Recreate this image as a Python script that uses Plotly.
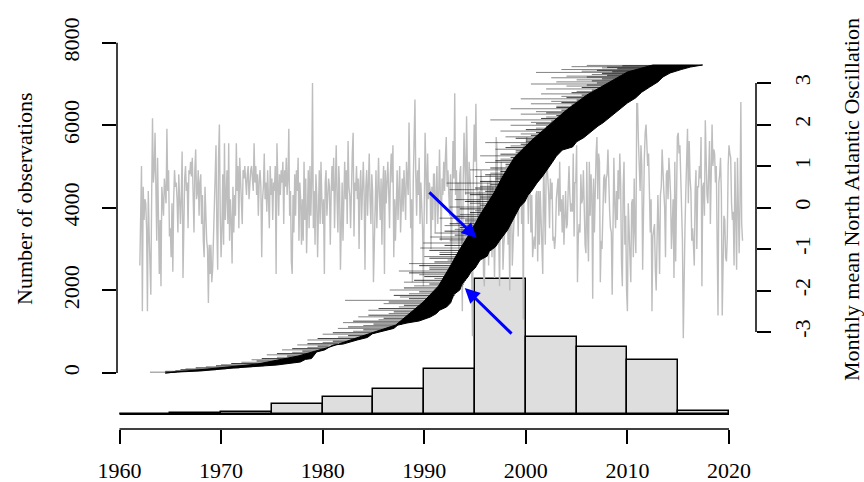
import plotly.graph_objects as go

# ---------------- data ----------------
hist_bin_left = [1960, 1965, 1970, 1975, 1980, 1985, 1990, 1995, 2000, 2005, 2010, 2015]
hist_heights = [0, 35, 60, 245, 425, 605, 1090, 3270, 1865, 1625, 1320, 75]
hist_base = -1000
hist_bin_width = 5

nao_start_year = 1962
nao_monthly = [
    -1.4, 0.6, 1.0, -2.5, 0.5, -0.3, 0.2, 0.1, -0.5, -2.5, 0.4, -0.6,
    -1.2, -2.1, 0.3, 2.15, 0.6, 0.9, 1.8, 0.3, -0.8, 1.2, -0.9, -1.6,
    -0.3, -1.9, 0.5, 0.2, -0.2, 0.7, 0.2, 0.1, 1.9, 0.4, 0.9, -0.7,
    -0.5, -1.2, 0.1, -1.55, 0.2, 0.9, 0.5, 0.6, 0.2, -0.6, 0.8, 0.3,
    -0.4, 0.3, 1.35, -1.7, -0.2, 0.7, 1.0, 0.4, 0.6, -0.5, 0.9, 0.8,
    1.1, 0.75, 1.2, 0.4, -0.6, 0.9, 1.4, 0.2, 0.35, 0.9, -0.2, 0.6,
    0.8, -0.4, 0.3, -0.8, -1.2, 0.5, -0.6, -0.8, -1.0, -2.3, -0.9, -1.6,
    -0.9, -1.8, -1.5, -0.6, 0.3, 0.5, 1.5, -0.5, -1.5, 1.2, 2.0, -0.2,
    -1.2, -0.5, 0.8, -0.9, 1.55, -0.3, 0.4, 0.9, -0.4, 1.55, -0.8, 0.2,
    -0.3, -1.35, 0.5, -0.6, 0.3, -0.2, 1.55, 0.4, 1.0, -0.5, 1.2, 0.6,
    0.4, -0.4, 0.9, 0.7, 1.0, 0.5, 0.3, 0.8, 1.0, 0.2, 0.6, 0.9,
    1.0, 0.5, 0.4, 1.55, 0.6, 1.0, 0.3, 0.8, -0.2, 0.6, 0.9, 0.5,
    -1.2, 0.2, 0.5, 1.3, 0.2, 0.6, -0.1, 0.9, 0.4, -0.5, 1.0, 0.3,
    0.7, -0.3, 0.6, 0.4, 1.0, -1.6, 1.55, 0.5, -0.2, 0.8, 0.3, 0.9,
    0.6, 1.1, -0.4, 0.9, 0.5, 1.2, 0.3, 0.7, 1.9, -0.2, 0.4, -1.3,
    -1.6, 0.3, -0.6, 0.8, -0.2, 0.9, 0.4, 1.2, -0.8, 0.6, 0.2, -0.9,
    0.2, -0.8, 1.1, -0.3, 0.7, -1.1, 0.4, 0.9, -0.5, 1.0, -0.2, 0.6,
    3.0, -0.5, 0.4, -0.9, 0.8, 0.3, -1.2, 0.5, 0.9, -0.4, 1.1, 0.2,
    -0.4, 0.2, -1.6, 0.6, 0.9, -0.2, 0.4, 0.7, 0.5, -0.9, 0.3, 1.0,
    0.4, 1.2, -0.5, 0.3, 1.5, 0.2, -0.6, 1.0, 0.5, -1.5, 0.3, 0.6,
    -0.8, 0.6, 1.1, 0.2, 0.9, -0.4, 1.6, 0.5, 0.3, -0.5, 0.8, 1.3,
    1.8, -0.7, 0.6, 0.4, 1.0, 0.2, 0.7, -1.0, 0.5, 0.9, -0.3, 0.6,
    1.1, 0.3, -1.5, 0.5, 0.9, -0.2, 0.6, 1.3, 0.2, -0.4, 0.8, 0.4,
    -1.8, -0.6, 0.2, 0.9, -0.5, 0.4, 1.2, 0.3, -0.3, 0.7, -0.9, 0.5,
    1.0, -1.6, 0.9, 0.1, 0.6, 1.1, 0.4, -0.5, 0.8, 1.3, 0.6, 1.5,
    -1.2, 0.2, -0.8, 0.5, 0.9, -0.3, 0.4, 1.0, -0.6, 0.3, 0.7, -0.1,
    0.9, 0.4, -0.3, 1.1, 0.5, 0.3, 2.05, 0.6, -0.5, 0.2, -1.8, 0.6,
    1.4, 2.6, 0.8, -0.2, 0.9, 0.3, 1.2, -0.4, 0.6, 0.2, -0.5, -1.9,
    1.2, 1.8, 0.9, -0.4, 1.3, 0.2, 0.6, 0.4, -1.0, 0.5, -0.3, 0.8,
    0.8, -0.6, 0.3, 1.0, -0.4, 0.2, 1.4, 0.6, -0.8, 0.7, 0.3, 1.1,
    0.4, 1.2, 1.7, 0.5, 0.9, 0.3, -0.2, 0.8, -1.3, 0.4, 1.6, 0.7,
    2.75, 0.3, 0.9, -0.4, 0.6, -1.2, 0.8, 1.0, -0.9, -2.5, 0.6, 1.8,
    1.0, 0.3, 2.2, 0.6, -0.5, 1.1, 0.8, 0.4, -1.5, -3.1, 0.9, 2.0,
    1.1, 2.5, 0.6, -0.5, -0.8, 0.4, -0.2, 0.9, 0.5, 0.1, -1.6, -1.9,
    -0.6, -0.2, -0.9, 0.6, -1.4, 0.4, 0.8, 0.3, -1.2, 0.5, -0.8, -1.7,
    -0.4, 1.7, 1.4, -0.6, -0.8, -1.9, 0.3, 1.1, 0.6, -1.5, -0.9, -0.6,
    0.4, -0.1, 0.5, -0.9, -0.2, -2.0, 0.5, 0.7, -1.4, -1.0, -0.3, 0.9,
    0.8, 0.3, 0.3, -0.7, 0.6, 0.2, 1.2, -0.4, 0.9, -2.7, 1.5, 1.0,
    0.6, 1.7, 0.8, -0.4, 1.6, -0.3, -0.6, 0.3, -1.2, -0.9, -0.7, -1.0,
    0.3, 0.4, -1.3, 0.4, -0.9, 0.4, -0.3, -0.4, -1.6, 1.2, 0.4, -0.9,
    0.8, 1.1, 0.7, 0.3, -0.5, 0.7, 0.2, 0.6, -0.8, -0.7, -1.0, -0.7,
    0.2, 0.6, 0.7, -0.2, 1.1, -0.1, 0.2, -0.6, 0.3, -0.9, -0.3, 0.4,
    -0.5, -0.4, 0.4, 1.0, 0.3, -0.1, 0.1, -0.1, 1.3, -0.7, 0.6, 0.6,
    1.5, -1.8, -0.7, -0.4, -0.6, 0.8, 0.1, 0.2, 0.9, -0.2, -0.9, -1.1,
    1.1, -0.5, -1.3, 1.1, -0.2, 0.8, 0.3, -2.2, 0.7, -0.6, 0.5, 1.3,
    1.7, 0.2, 1.3, 1.1, -1.8, -0.8, -1.0, 0.3, 0.7, 0.8, 0.1, 0.7,
    0.8, 1.4, 0.1, -0.1, -0.5, -0.6, -2.1, -0.6, 1.2, 0.1, -0.5, 0.4,
    -0.3, 0.9, 0.2, 1.3, 0.6, -1.3, -1.9, 0.5, 1.1, -0.9, -0.2, -2.0,
    -2.5, 0.1, -0.7, -1.2, -1.8, 0.1, 0.2, -1.2, 0.7, -0.6, -1.1, 2.5,
    2.5, 1.6, 1.1, 0.4, 1.5, 1.0, -1.5, 0.7, 1.2, 1.8, 2.0, 1.5,
    1.0, 1.3, 0.6, -0.6, 0.2, -2.5, -0.7, -0.5, -0.4, -1.5, -2.0, -0.8,
    0.3, -0.5, -1.6, 0.3, 0.5, 1.4, 0.7, 0.4, 0.0, -1.2, 0.8, 0.9,
    0.2, 1.2, 0.8, 0.3, -1.0, -0.4, 0.2, -1.7, 1.1, -1.3, 0.6, 1.7,
    1.8, 1.3, 1.5, 0.7, 0.1, -0.8, -3.15, -0.8, -0.5, 0.4, 1.4, 1.9,
    0.1, 1.6, 0.7, 0.4, -0.8, -0.5, -0.9, -1.4, 0.4, 0.9, -1.0, 0.5,
    0.5, 1.0, 0.7, 1.7, -1.9, 0.5, 0.6, -0.2, 2.1, 1.0, 0.3, 0.1,
    1.4, 1.6, -0.4, 0.7, 2.0, 1.0, 1.4, 1.3, 0.6, 1.0, -0.6, -2.6,
    0.6, 0.8, 1.2, 0.3, -2.6, -0.6, -0.2, -0.3, -1.2, -1.3, -0.7, 1.0,
    1.5, 1.3, 1.2, 0.1, -0.3, -0.1, -1.4, 1.1, -0.7, -1.5, 1.2, -0.2,
    -1.1, 0.1, 2.54, -0.4, -0.8,
]

# dense block of observation records: end-date edge (bottom -> top)
band_end_year = [1964.5, 1965.7, 1967.9, 1971.2, 1975.5, 1977.8, 1978.3, 1978.9, 1979.4, 1980.2,
                 1981.0, 1982.0, 1983.4, 1984.4, 1984.9, 1985.7, 1987.0, 1987.4, 1988.3, 1989.5,
                 1990.6, 1991.2, 1991.5, 1992.2, 1992.6, 1992.9, 1993.5, 1993.7, 1994.3, 1994.6,
                 1995.0, 1995.5, 1996.2, 1996.4, 1997.0, 1997.4, 1997.7, 1998.2, 1998.5, 1998.9,
                 1999.4, 1999.9, 2000.2, 2000.6, 2001.1, 2001.6, 2002.0, 2002.6, 2003.0, 2003.6,
                 2004.6, 2005.0, 2005.7, 2006.6, 2007.1, 2007.6, 2008.3, 2008.8, 2009.4, 2010.0,
                 2010.8, 2011.4, 2012.2, 2013.0, 2013.5, 2014.2, 2015.3, 2016.2, 2017.4]
band_end_count = [0, 24, 48, 121, 194, 266, 330, 350, 509, 560,
                  678, 700, 799, 860, 950, 993, 1080, 1160, 1211, 1260,
                  1356, 1440, 1520, 1599, 1700, 1900, 2010, 2150, 2325, 2450,
                  2540, 2737, 2830, 2950, 3052, 3200, 3300, 3463, 3600, 3800,
                  4021, 4150, 4300, 4420, 4602, 4750, 4880, 5100, 5250, 5401,
                  5474, 5600, 5700, 5885, 5980, 6060, 6200, 6300, 6420, 6539,
                  6660, 6800, 6927, 7050, 7170, 7266, 7350, 7410, 7460]
# left boundary of the solid part (top -> bottom)
band_start_year = [2012.5, 2010.0, 2008.3, 2006.0, 2004.0, 2002.3, 2000.6, 1998.9, 1997.8, 1996.8,
                   1995.6, 1994.5, 1993.4, 1992.4, 1991.4, 1989.9, 1987.2, 1983.6, 1980.7,
                   1977.6, 1973.6, 1968.7, 1965.0]
band_start_count = [7460, 7290, 7047, 6733, 6370, 6007, 5643, 5232, 4796, 4336,
                    3875, 3391, 2955, 2519, 2107, 1720, 1163, 872, 630,
                    412, 218, 97, 24]

# longer individual records (rank, start year, end year)
rec_rank = [7450, 7420, 7390, 7350, 7310, 7280, 7230, 7190, 7150, 7100, 7050, 7000, 6950, 6880, 6820,
            6760, 6700, 6640, 6580, 6520, 6460, 6400, 6330, 6270, 6200, 6130, 6070, 6000, 5930, 5860,
            5790, 5720, 5650, 5580, 5500, 5420, 5340, 5260, 5180, 5100, 5010, 4920, 4840, 4760, 4680,
            4600, 4520, 4440, 4360, 4280, 4200, 4110, 4020, 3930, 3840, 3750, 3660, 3570, 3480, 3390,
            3294, 3200, 3149, 3027, 2920, 2820, 2737, 2650, 2560, 2470, 2380, 2290, 2200, 2110, 2010,
            1920, 1841, 1760, 1680, 1600, 1520, 1440, 1360, 1290, 1220, 1150, 1080, 1010, 940, 870,
            800, 740, 680, 620, 560, 500, 440, 380, 320, 260, 200, 150, 100, 60, 20]
rec_start = [2006.0, 2004.5, 2007.5, 2003.5, 2005.5, 2001.0, 2006.5, 2004.0, 2002.5, 2005.0, 2003.0, 2000.5, 2004.0, 2002.0, 2005.0,
             2001.5, 2003.5, 1999.5, 2002.5, 2000.5, 2003.0, 1998.5, 2001.0, 1999.5, 2002.0, 1996.5, 2000.5, 1998.5, 2001.0, 1997.5,
             1999.5, 1998.0, 2000.0, 1996.0, 1998.5, 1997.0, 1999.0, 1995.5, 1997.5, 1996.0, 1998.0, 1994.5, 1996.5, 1995.0, 1997.0,
             1992.2, 1995.5, 1992.5, 1994.0, 1995.5, 1993.0, 1994.5, 1992.5, 1995.0, 1993.5, 1991.5, 1994.0, 1992.0, 1993.0, 1991.0,
             1990.6, 1992.5, 1989.9, 1989.6, 1991.5, 1990.0, 1992.3, 1988.5, 1990.5, 1987.5, 1989.5, 1991.0, 1988.0, 1989.0, 1986.6,
             1988.5, 1987.6, 1982.2, 1986.0, 1987.5, 1984.5, 1986.5, 1983.5, 1985.5, 1982.0, 1984.0, 1981.5, 1983.0, 1980.0, 1981.5,
             1978.5, 1980.0, 1977.5, 1978.5, 1976.0, 1977.0, 1974.5, 1975.5, 1973.0, 1972.0, 1970.0, 1968.5, 1966.5, 1965.5, 1963.0]
rec_end = [2016.5, 2016.0, 2015.5, 2015.0, 2014.5, 2014.0, 2013.8, 2013.5, 2013.3, 2013.0, 2012.8, 2012.5, 2012.2, 2011.8, 2011.5,
           2011.2, 2010.8, 2010.5, 2010.0, 2009.8, 2009.5, 2009.0, 2008.6, 2008.3, 2008.0, 2007.8, 2007.5, 2007.2, 2006.8, 2006.4,
           2006.0, 2005.6, 2005.2, 2004.8, 2004.4, 2003.6, 2003.2, 2003.0, 2002.7, 2002.4, 2002.0, 2001.8, 2001.5, 2001.3, 2001.0,
           2000.8, 2000.6, 2000.4, 2000.1, 1999.9, 1999.7, 1999.5, 1999.2, 1999.0, 1998.8, 1998.6, 1998.4, 1998.2, 1998.0, 1997.8,
           1997.4, 1997.2, 1997.0, 1996.8, 1996.4, 1995.9, 1995.4, 1995.2, 1994.9, 1994.6, 1994.4, 1994.2, 1994.0, 1993.8, 1993.4,
           1993.1, 1992.9, 1992.6, 1992.4, 1992.1, 1991.5, 1991.0, 1990.4, 1989.3, 1988.2, 1987.4, 1986.5, 1985.7, 1984.8, 1984.2,
           1983.3, 1982.1, 1980.9, 1980.4, 1979.8, 1979.3, 1978.9, 1978.5, 1978.1, 1977.6, 1975.4, 1973.0, 1970.5, 1968.5, 1965.5]

# shorter records just left of the solid block (rank, start year, end year)
short_rank = [7440, 7405, 7370, 7330, 7295, 7255, 7210, 7170, 7125, 7075, 7025, 6975, 6915, 6850, 6790,
              6730, 6670, 6610, 6550, 6490, 6430, 6365, 6300, 6235, 6165, 6100, 6035, 5965, 5895, 5825,
              5755, 5685, 5615, 5540, 5460, 5380, 5300, 5220, 5140, 5055, 4965, 4880, 4800, 4720, 4640,
              4560, 4480, 4400, 4320, 4240, 4155, 4065, 3975, 3885, 3795, 3705, 3615, 3525, 3435, 3340,
              3245, 3090, 2970, 2870, 2780, 2690, 2600, 2515, 2425, 2335, 2245, 2155, 2060, 1965, 1880,
              1800, 1720, 1640, 1560, 1480, 1400, 1325, 1255, 1185, 1115, 1045, 975, 905, 835, 770,
              710, 650, 590, 530, 470, 410, 350, 290, 230, 175, 125, 80, 40]
short_start = [2009.5, 2008.0, 2009.0, 2007.0, 2008.5, 2007.5, 2008.0, 2006.0, 2007.5, 2006.5, 2007.0, 2006.0, 2005.5, 2006.5, 2004.5,
               2005.5, 2004.0, 2005.0, 2003.5, 2004.5, 2003.0, 2003.5, 2002.0, 2003.0, 2001.5, 2002.5, 2001.0, 2002.0, 2000.0, 2001.0,
               2000.5, 1999.0, 2000.0, 1999.5, 1998.0, 1999.0, 1997.5, 1998.5, 1997.0, 1998.0, 1996.5, 1997.5, 1996.0, 1997.0, 1995.5,
               1996.5, 1995.0, 1996.0, 1994.5, 1995.5, 1994.0, 1995.5, 1993.5, 1994.5, 1993.0, 1994.0, 1992.5, 1993.5, 1992.0, 1993.0,
               1991.5, 1992.0, 1990.5, 1991.5, 1990.5, 1991.0, 1989.5, 1990.5, 1988.5, 1990.0, 1989.0, 1990.5, 1988.0, 1989.5, 1987.0,
               1988.5, 1986.5, 1988.0, 1985.5, 1987.0, 1984.5, 1986.0, 1983.0, 1985.0, 1982.5, 1984.0, 1981.0, 1982.5, 1979.5, 1981.0,
               1978.5, 1979.5, 1977.0, 1978.0, 1975.5, 1976.5, 1974.0, 1973.5, 1971.0, 1969.5, 1967.5, 1966.0, 1964.5]
short_end = [2016.3, 2015.8, 2015.2, 2014.8, 2014.3, 2013.9, 2013.6, 2013.4, 2013.1, 2012.9, 2012.6, 2012.3, 2012.0, 2011.6, 2011.3,
             2011.0, 2010.6, 2010.3, 2009.9, 2009.6, 2009.2, 2008.8, 2008.5, 2008.2, 2007.9, 2007.6, 2007.3, 2007.0, 2006.6, 2006.2,
             2005.8, 2005.4, 2005.0, 2004.6, 2004.0, 2003.4, 2003.1, 2002.8, 2002.5, 2002.2, 2001.9, 2001.6, 2001.4, 2001.1, 2000.9,
             2000.7, 2000.5, 2000.2, 2000.0, 1999.8, 1999.6, 1999.3, 1999.1, 1998.9, 1998.7, 1998.5, 1998.3, 1998.1, 1997.9, 1997.6,
             1997.3, 1996.9, 1996.6, 1996.1, 1995.6, 1995.3, 1995.0, 1994.7, 1994.5, 1994.3, 1994.1, 1993.9, 1993.6, 1993.2, 1993.0,
             1992.7, 1992.5, 1992.2, 1991.8, 1991.2, 1990.7, 1989.8, 1988.7, 1987.8, 1986.9, 1986.1, 1985.2, 1984.5, 1983.8, 1982.7,
             1981.5, 1980.6, 1980.1, 1979.5, 1979.1, 1978.7, 1978.3, 1977.9, 1976.5, 1974.2, 1971.8, 1969.5, 1966.5]

# arrows: (tail year, tail count) -> (tip year, tip count)
arrow_tail_year = [1990.36, 1998.74]
arrow_tail_count = [4408, 920]
arrow_tip_year = [1995.16, 1993.99]
arrow_tip_count = [3270, 2059]

x_ticks = [1960, 1970, 1980, 1990, 2000, 2010, 2020]
y_ticks = [0, 2000, 4000, 6000, 8000]
y2_ticks = [-3, -2, -1, 0, 1, 2, 3]

# ---------------- layout geometry ----------------
W, H = 864, 482
ML, MR, MT, MB = 117, 108, 25, 53
PW, PH = W - ML - MR, H - MT - MB
xs = (729.0 - 119.5) / 60.0
x0 = 1960 - (119.5 - ML) / xs
x1 = x0 + PW / xs
ys = (373.0 - 42.7) / 8000.0
y_lo = -((H - MB) - 373.0) / ys
y_hi = (373.0 - MT) / ys
y2s = (332.0 - 83.0) / 6.0
y2_zero = (332.0 + 83.0) / 2.0
y2_lo = -((H - MB) - y2_zero) / y2s
y2_hi = (y2_zero - MT) / y2s

FONT = "Liberation Serif"
FS = 22

fig = go.Figure()

# histogram
centers = [b + hist_bin_width / 2 for b in hist_bin_left]
fig.add_trace(go.Bar(x=centers, y=hist_heights, base=hist_base, width=hist_bin_width,
                     marker=dict(color="#dedede", line=dict(color="black", width=1.5)),
                     xaxis="x", yaxis="y", showlegend=False, hoverinfo="skip"))
fig.add_trace(go.Scatter(x=[hist_bin_left[0], hist_bin_left[-1] + hist_bin_width],
                         y=[hist_base, hist_base], mode="lines",
                         line=dict(color="black", width=1.5), xaxis="x", yaxis="y",
                         showlegend=False, hoverinfo="skip"))

# NAO line
nao_t = [nao_start_year + i / 12.0 for i in range(len(nao_monthly))]
fig.add_trace(go.Scatter(x=nao_t, y=nao_monthly, mode="lines",
                         line=dict(color="#bebebe", width=1.4),
                         xaxis="x", yaxis="y2", showlegend=False, hoverinfo="skip"))

# observation records
def segs(ranks, starts, ends):
    xx, yy = [], []
    for r, s, e in zip(ranks, starts, ends):
        xx += [s, e, None]
        yy += [r, r, None]
    return xx, yy

lx, ly = segs(rec_rank, rec_start, rec_end)
fig.add_trace(go.Scatter(x=lx, y=ly, mode="lines",
                         line=dict(color="rgba(0,0,0,0.55)", width=0.9),
                         xaxis="x", yaxis="y3", showlegend=False, hoverinfo="skip"))
sx, sy = segs(short_rank, short_start, short_end)
fig.add_trace(go.Scatter(x=sx, y=sy, mode="lines",
                         line=dict(color="rgba(0,0,0,0.75)", width=1),
                         xaxis="x", yaxis="y3", showlegend=False, hoverinfo="skip"))
bx = band_end_year + band_start_year + [band_end_year[0]]
by = band_end_count + band_start_count + [band_end_count[0]]
fig.add_trace(go.Scatter(x=bx, y=by, mode="lines", fill="toself", fillcolor="black",
                         line=dict(color="black", width=1),
                         xaxis="x", yaxis="y3", showlegend=False, hoverinfo="skip"))

tickfont = dict(family=FONT, size=FS, color="black")
fig.update_layout(
    width=W, height=H, margin=dict(l=ML, r=MR, t=MT, b=MB, autoexpand=False),
    paper_bgcolor="white", plot_bgcolor="rgba(0,0,0,0)",
    showlegend=False, bargap=0,
    xaxis=dict(range=[x0, x1], tickvals=x_ticks, ticks="outside", ticklen=14, tickwidth=1.5,
               tickcolor="black", showline=False, showgrid=False, zeroline=False,
               tickfont=tickfont, ticklabelstandoff=8),
    yaxis=dict(range=[y_lo, y_hi], tickvals=y_ticks, ticks="outside", ticklen=14, tickwidth=1.5,
               tickcolor="black", showline=False, showgrid=False, zeroline=False,
               tickfont=tickfont, tickangle=-90, ticklabelstandoff=14),
    yaxis2=dict(range=[y2_lo, y2_hi], tickvals=y2_ticks, ticktext=[str(v) for v in y2_ticks],
                ticks="outside", ticklen=14, tickwidth=1.5,
                tickcolor="black", showline=False, showgrid=False, zeroline=False,
                overlaying="y", side="right", tickfont=tickfont, tickangle=-90,
                ticklabelstandoff=13),
    yaxis3=dict(range=[y_lo, y_hi], overlaying="y", visible=False, showgrid=False, zeroline=False),
)

# R-style axis lines spanning the ticks
fig.add_shape(type="line", xref="x", yref="paper", x0=x_ticks[0], x1=x_ticks[-1], y0=0, y1=0,
              line=dict(color="black", width=1.5))
fig.add_shape(type="line", xref="paper", yref="y", x0=0, x1=0, y0=y_ticks[0], y1=y_ticks[-1],
              line=dict(color="black", width=1.5))
fig.add_shape(type="line", xref="paper", yref="y2", x0=1, x1=1, y0=y2_ticks[0], y1=y2_ticks[-1],
              line=dict(color="black", width=1.5))

# arrows
for tx, ty, px_, py_ in zip(arrow_tail_year, arrow_tail_count, arrow_tip_year, arrow_tip_count):
    fig.add_annotation(x=px_, y=py_, ax=tx, ay=ty, xref="x", yref="y", axref="x", ayref="y",
                       showarrow=True, arrowhead=2, arrowsize=1, arrowwidth=3,
                       arrowcolor="#0000ff", text="", standoff=0, startstandoff=0)

# axis titles
fig.add_annotation(x=(24 - ML) / PW, y=((H - MB) - 199) / PH, xref="paper", yref="paper",
                   text="Number of observations", showarrow=False, textangle=-90,
                   xanchor="center", yanchor="middle", font=dict(family=FONT, size=FS, color="black"))
fig.add_annotation(x=(851 - ML) / PW, y=((H - MB) - 200) / PH, xref="paper", yref="paper",
                   text="Monthly mean North Atlantic Oscillation", showarrow=False, textangle=-90,
                   xanchor="center", yanchor="middle", font=dict(family=FONT, size=FS, color="black"))

fig.write_html("out.html")
